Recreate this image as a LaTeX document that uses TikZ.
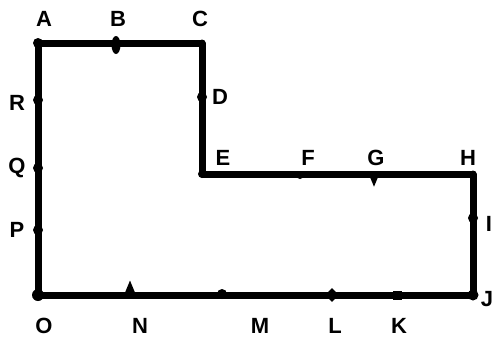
\documentclass[tikz,border=0pt]{standalone}
\usepackage{fontspec}
\setmainfont{Liberation Sans}
\usetikzlibrary{shapes.geometric}

\begin{document}
\begin{tikzpicture}
[every node/.style={inner sep=0pt},
 pt/.style={circle, minimum size=10pt, fill=black},
 lbl/.style={font=\bfseries\fontsize{22pt}{22pt}\selectfont, text=black}]
\useasboundingbox (0pt, 0pt) rectangle (495pt, -338pt);
\node (A) [pt] at (38.0pt, -43.0pt) {};
\node (B) [ellipse, minimum width=9pt, minimum height=18pt, fill=black] at (116.0pt, -45.0pt) {};
\node (C) [pt, minimum size=7pt] at (202.0pt, -43.0pt) {};
\node (D) [pt] at (202.0pt, -97.0pt) {};
\node (E) [pt, minimum size=8pt] at (202.0pt, -174.0pt) {};
\node (F) [pt, minimum size=8pt] at (300.0pt, -175.0pt) {};
\node (G) [isosceles triangle, shape border rotate=-90, minimum size=10pt, fill=black] at (374.0pt, -178.0pt) {};
\node (H) [pt, minimum size=7pt] at (473.0pt, -174.0pt) {};
\node (I) [pt] at (473.0pt, -218.0pt) {};
\node (J) [pt, minimum size=11pt] at (473.0pt, -295.0pt) {};
\node (K) [rectangle, minimum size=9pt, fill=black] at (397.0pt, -295.0pt) {};
\node (L) [diamond, minimum size=14pt, fill=black] at (332.0pt, -295.0pt) {};
\node (M) [pt] at (222.0pt, -294.0pt) {};
\node (N) [isosceles triangle, shape border rotate=90, minimum size=12pt, fill=black] at (130.0pt, -291.0pt) {};
\node (O) [pt, minimum size=12pt] at (38.0pt, -295.0pt) {};
\node (P) [pt] at (38.0pt, -230.0pt) {};
\node (Q) [pt] at (38.0pt, -168.0pt) {};
\node (R) [pt] at (38.0pt, -100.0pt) {};
\draw [line width=7pt, line join=round, color=black] (A.center) -- (C.center) -- (E.center) -- (H.center) -- (J.center) -- (O.center) -- cycle;
\node (tA) [lbl] at (44.0pt, -19.0pt) {A};
\node (tB) [lbl] at (118.0pt, -19.0pt) {B};
\node (tC) [lbl] at (200.0pt, -19.0pt) {C};
\node (tD) [lbl] at (220.0pt, -97.0pt) {D};
\node (tE) [lbl] at (223.0pt, -158.0pt) {E};
\node (tF) [lbl] at (308.0pt, -158.0pt) {F};
\node (tG) [lbl] at (376.0pt, -158.0pt) {G};
\node (tH) [lbl] at (468.0pt, -158.0pt) {H};
\node (tI) [lbl] at (489.0pt, -224.0pt) {I};
\node (tJ) [lbl] at (487.0pt, -299.0pt) {J};
\node (tK) [lbl] at (399.0pt, -326.0pt) {K};
\node (tL) [lbl] at (335.0pt, -326.0pt) {L};
\node (tM) [lbl] at (260.0pt, -326.0pt) {M};
\node (tN) [lbl] at (140.0pt, -326.0pt) {N};
\node (tO) [lbl] at (44.0pt, -326.0pt) {O};
\node (tP) [lbl] at (17.0pt, -230.0pt) {P};
\node (tQ) [lbl] at (17.0pt, -168.0pt) {Q};
\node (tR) [lbl] at (17.0pt, -103.0pt) {R};
\end{tikzpicture}
\end{document}
